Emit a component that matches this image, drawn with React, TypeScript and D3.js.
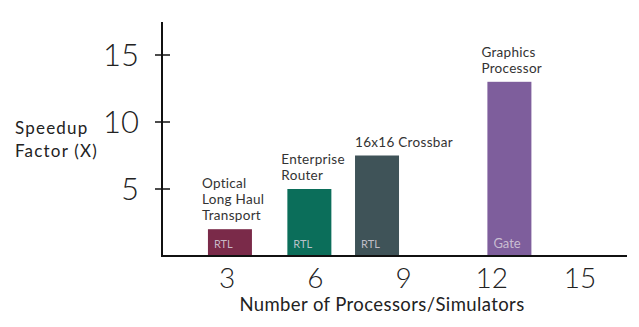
import React from "react";
import * as d3 from "d3";

const W = 639;
const H = 327;

// Data
const barLabels = [
  ["Optical", "Long Haul", "Transport"],
  ["Enterprise", "Router"],
  ["16x16 Crossbar"],
  ["Graphics", "Processor"],
];
const barLevels = ["RTL", "RTL", "RTL", "Gate"];
const barProcessors = [3.1, 5.8, 8.1, 12.6];
const speedups = [2, 5, 7.5, 13];
const barColors = ["#7a2a49", "#0b6e5a", "#3f5358", "#7e5e9c"];
const xTicks = [3, 6, 9, 12, 15];
const yTicks = [5, 10, 15];

const FONT = "'Lato', 'DejaVu Sans', sans-serif";

export default function App() {
  const x0 = 162;
  const y0 = 256;
  const x = d3.scaleLinear().domain([3, 15]).range([227, 580]);
  const y = d3.scaleLinear().domain([0, 15]).range([y0, 55]);
  const barW = 44;

  return (
    <svg
      width={W}
      height={H}
      style={{ position: "absolute", left: 0, top: 0, background: "#fff" }}
    >
      <rect width={W} height={H} fill="#fff" />
      {/* bars */}
      {speedups.map((v, i) => {
        const cx = x(barProcessors[i]);
        const left = cx - barW / 2;
        const top = y(v);
        const lines = barLabels[i];
        return (
          <g key={i}>
            <rect x={left} y={top} width={barW} height={y0 - top} fill={barColors[i]} />
            <text
              x={left + 6}
              y={y0 - 8}
              fontFamily={FONT}
              fontSize={barLevels[i] === "Gate" ? 13 : 11}
              fill="#d8d0dc"
              fillOpacity={0.85}
            >
              {barLevels[i]}
            </text>
            {lines.map((ln, j) => (
              <text
                key={j}
                x={left - 6 + (i === 2 ? 6 : 0)}
                y={top - 9 - (lines.length - 1 - j) * 16}
                fontFamily={FONT}
                fontSize={13.5}
                letterSpacing={0.3}
                fill="#333"
              >
                {ln}
              </text>
            ))}
          </g>
        );
      })}
      {/* axes */}
      <line x1={x0} x2={x0} y1={22} y2={y0 + 1} stroke="#111" strokeWidth={2} />
      <line x1={x0} x2={627} y1={y0} y2={y0} stroke="#111" strokeWidth={2} />
      {yTicks.map((t) => (
        <g key={t}>
          <line x1={155} x2={170} y1={y(t)} y2={y(t)} stroke="#111" strokeWidth={1.5} />
          <text
            x={139}
            y={y(t) + 11}
            textAnchor="end"
            fontFamily={FONT}
            fontSize={31}
            fontWeight={300}
            fill="#222"
          >
            {t}
          </text>
        </g>
      ))}
      {xTicks.map((t) => (
        <text
          key={t}
          x={x(t)}
          y={288}
          textAnchor="middle"
          fontFamily={FONT}
          fontSize={28}
          fontWeight={300}
          fill="#222"
        >
          {t}
        </text>
      ))}
      <text x={15} y={134} fontFamily={FONT} fontSize={17} letterSpacing={1.2} fill="#222">
        Speedup
      </text>
      <text x={15} y={157} fontFamily={FONT} fontSize={17} letterSpacing={1.2} fill="#222">
        Factor (X)
      </text>
      <text
        x={382}
        y={311}
        textAnchor="middle"
        fontFamily={FONT}
        fontSize={18.5}
        letterSpacing={0.4}
        fill="#222"
      >
        Number of Processors/Simulators
      </text>
    </svg>
  );
}
